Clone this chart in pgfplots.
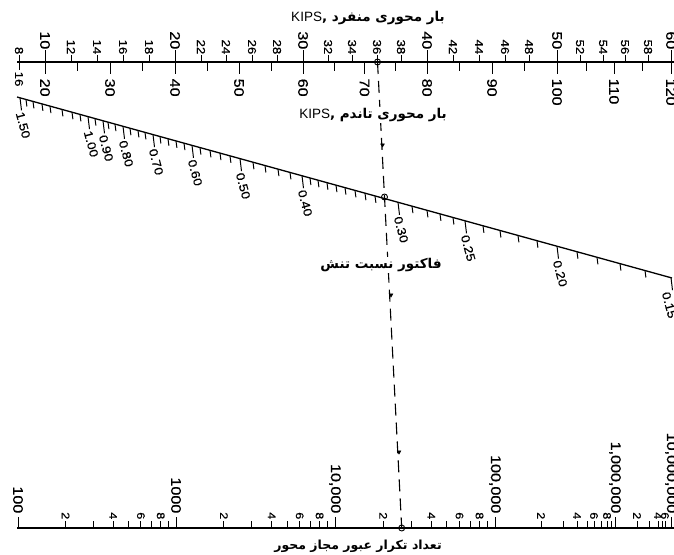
\documentclass[border=0pt]{standalone}
\usepackage{pgfplots}
\pgfplotsset{compat=1.18}
\usepackage{fontspec}
\setmainfont{Liberation Sans}
\newfontfamily\wide[FakeStretch=1.15, FakeBold=0.6]{Liberation Sans}
\newfontfamily\fa[Script=Arabic]{DejaVu Sans}
\TeXXeTstate=1
\begin{document}
\begin{tikzpicture}
\useasboundingbox (0,0) rectangle (674pt,554pt);
\begin{axis}[
  width=674pt, height=554pt, scale only axis,
  xmin=0, xmax=674, ymin=0, ymax=554, y dir=reverse,
  hide axis, clip=false,
  tick/.style={black, line width=1pt, quiver={u=\thisrow{u}, v=\thisrow{v}}},
  lab/.style={only marks, mark=none, nodes near coords, point meta=explicit symbolic},
]
% ---------- main scale lines ----------
\addplot[black, line width=1.3pt] coordinates {(17,62) (674,62)};
\addplot[black, line width=1.3pt] coordinates {(17,97) (672,278)};
\addplot[black, line width=1.3pt] coordinates {(17,528) (674,528)};

% ---------- top scale ticks (single above, tandem below) ----------
\addplot[tick] table {
x y u v
19 62 0 -7
45 62 0 -12
71 62 0 -7
97 62 0 -7
123 62 0 -7
149 62 0 -7
175 62 0 -12
201 62 0 -7
226 62 0 -7
252 62 0 -7
277 62 0 -7
303 62 0 -12
328 62 0 -7
352 62 0 -7
377 62 0 -7
401 62 0 -7
427 62 0 -12
453 62 0 -7
479 62 0 -7
505 62 0 -7
529 62 0 -7
557 62 0 -12
580 62 0 -7
603 62 0 -7
625 62 0 -7
648 62 0 -7
671 62 0 -12
19 62 0 8
45 62 0 12
77.5 62 0 9
110 62 0 12
142.5 62 0 9
175 62 0 12
207.5 62 0 9
239 62 0 12
271 62 0 9
303 62 0 12
334 62 0 9
364.5 62 0 12
395 62 0 9
427 62 0 12
459.5 62 0 9
492 62 0 12
524 62 0 9
557 62 0 12
586 62 0 9
614 62 0 12
642 62 0 9
671 62 0 12
};

% single-axle labels (small)
\addplot[lab, every node near coord/.append style={font=\wide\fontsize{11.5}{11.5}\selectfont, rotate=-90, anchor=east, inner sep=0.5pt}]
  table[meta=lab] {
x y lab
19 55 8
71 55 12
97 55 14
123 55 16
149 55 18
201 55 22
226 55 24
252 55 26
277 55 28
328 55 32
352 55 34
377 55 36
401 55 38
453 55 42
479 55 44
505 55 46
529 55 48
580 55 52
603 55 54
625 55 56
648 55 58
};
% single-axle labels (decades)
\addplot[lab, every node near coord/.append style={font=\wide\fontsize{14}{14}\selectfont, rotate=-90, anchor=east, inner sep=0.5pt}]
  table[meta=lab] {
x y lab
45 50 10
175 50 20
303 50 30
427 50 40
557 50 50
671 50 60
};
% tandem labels
\addplot[lab, every node near coord/.append style={font=\wide\fontsize{11.5}{11.5}\selectfont, rotate=-90, anchor=west, inner sep=0.5pt}]
  table[meta=lab] {
x y lab
19 71 16
};
\addplot[lab, every node near coord/.append style={font=\wide\fontsize{14}{14}\selectfont, rotate=-90, anchor=west, inner sep=0.5pt}]
  table[meta=lab] {
x y lab
45 78 20
110 78 30
175 78 40
239 78 50
303 78 60
364.5 78 70
427 78 80
492 78 90
557 78 100
614 78 110
671 78 120
};

% ---------- slanted stress-ratio scale ----------
\addplot[tick] table {
x y u v
26 99.5 0.9 7
33 101.4 0.9 7
42 103.9 0.9 7
50 106.1 0.9 7
62 109.4 0.9 7
72 112.2 0.9 7
80 114.4 0.9 7
95 118.6 0.9 7
108 122.1 0.9 7
115 124.1 0.9 7
130 128.2 0.9 7
138 130.4 0.9 7
145 132.4 0.9 7
160 136.5 0.9 7
168 138.7 0.9 7
176 140.9 0.9 7
184 143.1 0.9 7
200 147.6 0.9 7
210 150.3 0.9 7
220 153.1 0.9 7
230 155.9 0.9 7
253 162.2 0.9 7
265 165.5 0.9 7
278 169.1 0.9 7
290 172.4 0.9 7
310 178.0 0.9 7
318 180.2 0.9 7
327 182.7 0.9 7
336 185.1 0.9 7
345 187.6 0.9 7
355 190.4 0.9 7
365 193.2 0.9 7
375 195.9 0.9 7
412 206.1 0.9 7
427 210.3 0.9 7
440 213.9 0.9 7
453 217.5 0.9 7
483 225.8 0.9 7
500 230.5 0.9 7
518 235.4 0.9 7
537 240.7 0.9 7
577 251.7 0.9 7
597 257.3 0.9 7
620 263.6 0.9 7
645 270.5 0.9 7
20 97.8 1.5 12.5
88 116.6 1.5 12.5
103 120.8 1.5 12.5
123 126.3 1.5 12.5
153 134.6 1.5 12.5
192 145.4 1.5 12.5
240 158.6 1.5 12.5
302 175.7 1.5 12.5
398 202.3 1.5 12.5
465 220.8 1.5 12.5
557 246.2 1.5 12.5
671 277.7 1.5 12.5
};
\addplot[lab, every node near coord/.append style={font=\wide\fontsize{12}{12}\selectfont, rotate=-75, anchor=west, inner sep=0.5pt}]
  table[meta=lab] {
x y lab
19.5 111.5 1.50
87.5 130.3 1.00
102.5 134.5 0.90
122.5 140.0 0.80
152.5 148.3 0.70
191.5 159.1 0.60
239.5 172.3 0.50
301.5 189.4 0.40
397.5 216.0 0.30
464.5 234.5 0.25
556.5 259.9 0.20
665.5 291.4 0.15
};

% ---------- bottom repetitions scale ----------
\addplot[tick] table {
x y u v
18 528 0 -11
176 528 0 -11
335 528 0 -11
495 528 0 -11
615 528 0 -11
671 528 0 -11
65.6 528 0 -7
93.4 528 0 -7
113.1 528 0 -7
128.4 528 0 -7
140.9 528 0 -7
151.5 528 0 -7
160.7 528 0 -7
168.8 528 0 -7
223.9 528 0 -7
251.8 528 0 -7
271.7 528 0 -7
287.1 528 0 -7
299.7 528 0 -7
310.4 528 0 -7
319.6 528 0 -7
327.7 528 0 -7
383.2 528 0 -7
411.3 528 0 -7
431.3 528 0 -7
446.8 528 0 -7
459.5 528 0 -7
470.2 528 0 -7
479.5 528 0 -7
487.7 528 0 -7
541 528 0 -7
563 528 0 -7
577 528 0 -7
587 528 0 -7
594 528 0 -7
601 528 0 -7
607 528 0 -7
611 528 0 -7
637 528 0 -7
649 528 0 -7
658 528 0 -7
662 528 0 -7
665 528 0 -7
};
\addplot[lab, every node near coord/.append style={font=\wide\fontsize{11}{11}\selectfont, rotate=-90, anchor=east, inner sep=0.5pt}]
  table[meta=lab] {
x y lab
65.6 520 2
113.1 520 4
140.9 520 6
160.7 520 8
223.9 520 2
271.7 520 4
299.7 520 6
319.6 520 8
383.2 520 2
431.3 520 4
459.5 520 6
479.5 520 8
541 520 2
577 520 4
594 520 6
607 520 8
637 520 2
658 520 4
665 520 6
};
\addplot[lab, every node near coord/.append style={font=\wide\fontsize{14}{14}\selectfont, rotate=-90, anchor=east, inner sep=0.5pt}]
  table[meta=lab] {
x y lab
18 514 100
176 514 1000
335 514 10,000
495 514 100,000
615 514 1,000,000
671 514 10,000,000
};

% ---------- example construction line ----------
\addplot[black, line width=1.1pt, dash pattern=on 12pt off 7pt] coordinates {(377.5,62) (401.7,528)};
\addplot[only marks, mark=triangle*, mark size=2.2pt, mark options={rotate=180, fill=black}] coordinates {(382.5,145) (391,295) (399,452)};
\addplot[only marks, mark=o, mark size=3pt, mark options={fill=white, line width=0.9pt}] coordinates {(377.5,62) (384.5,197) (401.7,528)};

% ---------- titles ----------
\node[font=\fontsize{13.5}{13.5}\selectfont, inner sep=1pt] at (axis cs:368,18)
  {\fa\bfseries\beginR بار محوری منفرد ,\beginL{\normalfont KIPS}\endL\endR};
\node[font=\fontsize{13.5}{13.5}\selectfont, fill=white, inner sep=1pt] at (axis cs:373,115)
  {\fa\bfseries\beginR بار محوری تاندم ,\beginL{\normalfont KIPS}\endL\endR};
\node[font=\fontsize{13.5}{13.5}\selectfont, fill=white, inner sep=1pt] at (axis cs:381,265)
  {\fa\bfseries\beginR فاکتور نسبت تنش\endR};
\node[font=\fontsize{12.5}{12.5}\selectfont, inner sep=1pt] at (axis cs:358,546)
  {\fa\bfseries\beginR تعداد تکرار عبور مجاز محور\endR};
\end{axis}
\end{tikzpicture}
\end{document}
